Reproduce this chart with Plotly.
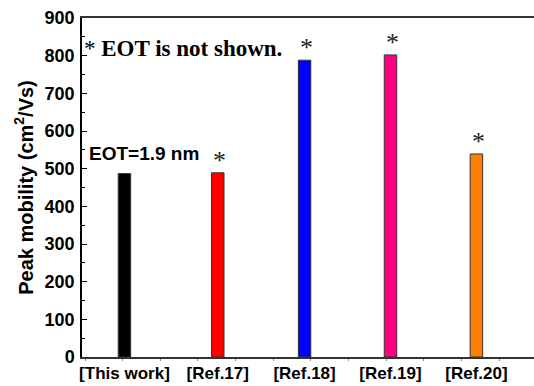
import plotly.graph_objects as go

categories = ["[This work]", "[Ref.17]", "[Ref.18]", "[Ref.19]", "[Ref.20]"]
positions = [0.494, 1.58, 2.59, 3.59, 4.59]
mobility = [487, 489, 788, 802, 539]
colors = ["#000000", "#FF0000", "#0000FF", "#FF0080", "#FF8000"]
starred = [False, True, True, True, True]
y_ticks = [0, 100, 200, 300, 400, 500, 600, 700, 800, 900]

fig = go.Figure()
fig.add_trace(go.Bar(
    x=positions, y=mobility, width=0.145,
    marker=dict(color=colors, line=dict(color="#333333", width=1)),
    showlegend=False,
))

for xp, v, s in zip(positions, mobility, starred):
    if s:
        fig.add_annotation(x=xp + 0.02, y=v, text="*", showarrow=False,
                           yanchor="bottom", yshift=-4,
                           font=dict(family="Liberation Serif", size=26, color="#222"))

fig.add_annotation(x=0, xref="paper", y=820, yref="y", xanchor="left", yanchor="middle",
                   text="* <b>EOT is not shown.</b>", showarrow=False,
                   font=dict(family="Liberation Serif", size=23, color="#000"))
fig.add_annotation(x=0.01, xref="paper", y=541, yref="y", xanchor="left", yanchor="middle",
                   text="<b>EOT=1.9 nm</b>", showarrow=False,
                   font=dict(family="Liberation Sans", size=19, color="#000"))

fig.update_layout(
    width=534, height=386,
    margin=dict(l=82, r=0, t=18, b=29),
    plot_bgcolor="white", paper_bgcolor="white",
    font=dict(family="Liberation Sans", color="#000"),
    xaxis=dict(
        range=[0, 5.26], tickmode="array", tickvals=positions, ticktext=categories,
        tickfont=dict(size=17, family="Liberation Sans", weight="bold"),
        showline=True, linecolor="#333", linewidth=1.5, mirror=True,
        ticks="", showgrid=False, zeroline=False, ticklabelstandoff=0,
        minor=dict(ticks="outside", ticklen=2, tickcolor="#888", tick0=0.035, dtick=0.438),
    ),
    yaxis=dict(
        range=[0, 900], tickmode="array", tickvals=y_ticks,
        tickfont=dict(size=18, family="Liberation Sans", weight="bold"),
        showline=True, linecolor="#000", linewidth=1.5, ticklabelstandoff=2,
        ticks="inside", ticklen=5, tickcolor="#000", showgrid=False, zeroline=False,
        minor=dict(ticks="inside", ticklen=3, tickcolor="#000", dtick=50, tick0=0),
        title=dict(text="<b>Peak mobility (cm<sup>2</sup>/Vs)</b>", font=dict(size=20), standoff=6),
    ),
)

fig.write_html("out.html")
